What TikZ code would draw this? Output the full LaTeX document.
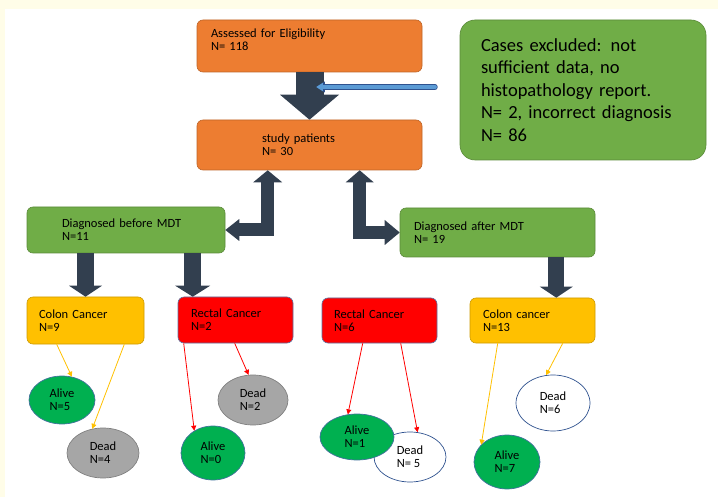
\documentclass[tikz,border=0pt]{standalone}
\usepackage{fontspec}
\setmainfont{Carlito}
\usetikzlibrary{arrows.meta,shapes.geometric}
\definecolor{orangebox}{HTML}{ED7D31}
\definecolor{greenbox}{HTML}{70AD47}
\definecolor{yellowbox}{HTML}{FFC000}
\definecolor{redbox}{HTML}{FF0000}
\definecolor{alivegreen}{HTML}{00B050}
\definecolor{deadgray}{HTML}{A6A6A6}
\definecolor{slate}{HTML}{323F4F}
\definecolor{outline}{HTML}{41719C}
\definecolor{midblue}{HTML}{5B9BD5}
\definecolor{darkblue}{HTML}{2F528F}
\definecolor{cream}{HTML}{FFFDE8}
\newcommand{\boxfont}{\fontsize{12.5}{13}\selectfont}
\newcommand{\notefont}{\fontsize{18.5}{22.5}\selectfont}
\tikzset{
  flowbox/.style={rectangle,rounded corners=6pt,fill=#1,draw=#1!80!black,line width=0.6pt,
    align=left,inner ysep=1pt,font=\boxfont},
  state/.style={ellipse,draw=outline,line width=0.7pt,align=left,inner sep=0pt,font=\boxfont},
  alive/.style={state,fill=alivegreen},
  dead/.style={state,fill=deadgray,draw=gray},
  openstate/.style={state,fill=white,draw=darkblue},
  yline/.style={draw=yellowbox,line width=0.8pt,-{Triangle[width=5pt,length=5pt]}},
  rline/.style={draw=redbox,line width=0.8pt,-{Triangle[width=5pt,length=5pt]}},
}
\begin{document}
\begin{tikzpicture}[x=1pt,y=-1pt]
\useasboundingbox (0,0) rectangle (718,497);
\fill[cream] (0,0) rectangle (718,9);
\fill[cream] (0,0) rectangle (5,497);
% top boxes
\node[flowbox=orangebox,minimum width=225pt,minimum height=52pt,text width=197pt,inner xsep=14pt] (assess) at (309.5,46) {Assessed for Eligibility\\N= 118\rule[-12pt]{0pt}{12pt}};
\node[flowbox=orangebox,minimum width=225pt,minimum height=50pt,text width=95pt,inner xsep=65pt] (study) at (309.5,145) {study patients\\N= 30};
\node[flowbox=greenbox,rounded corners=15pt,minimum width=246pt,minimum height=140pt,text width=204pt,inner xsep=21pt,font=\notefont] (excl) at (583,90)
  {Cases excluded: not\\sufficient data, no\\histopathology report.\\N= 2, incorrect diagnosis\\N= 86};
% groups
\node[flowbox=greenbox,minimum width=198pt,minimum height=46pt,text width=128pt,inner xsep=35pt] (before) at (126,230) {Diagnosed before MDT\\N=11};
\node[flowbox=greenbox,minimum width=195pt,minimum height=49pt,text width=167pt,inner xsep=14pt] (after) at (497.5,232.5) {Diagnosed after MDT\\N= 19};
% cancer types
\node[flowbox=yellowbox,minimum width=117pt,minimum height=47pt,text width=93pt,inner xsep=12pt] (c9) at (85.5,320.5) {Colon Cancer\\N=9};
\node[flowbox=redbox,draw=darkblue!80,minimum width=115pt,minimum height=46pt,text width=89pt,inner xsep=13pt] (r2) at (235.5,320) {Rectal Cancer\\N=2};
\node[flowbox=redbox,draw=darkblue!80,minimum width=115pt,minimum height=45pt,text width=91pt,inner xsep=12pt] (r6) at (379.5,320.5) {Rectal Cancer\\N=6};
\node[flowbox=yellowbox,minimum width=125pt,minimum height=45pt,text width=99pt,inner xsep=13pt] (c13) at (532.5,320.5) {Colon cancer\\N=13};
% outcomes
\node[alive,minimum width=66pt,minimum height=48pt] (a5) at (62,400) {Alive\\N=5};
\node[dead,minimum width=72pt,minimum height=50pt] (d4) at (103,453) {Dead\\N=4};
\node[dead,minimum width=70pt,minimum height=50pt] (d2) at (253,400) {Dead\\N=2};
\node[alive,minimum width=64pt,minimum height=54pt] (a0) at (213,453) {Alive\\N=0};
\node[openstate,minimum width=72pt,minimum height=50pt] (d5) at (410,457) {Dead\\N= 5};
\node[alive,minimum width=74pt,minimum height=46pt] (a1) at (357,437) {Alive\\N=1};
\node[openstate,minimum width=74pt,minimum height=56pt] (d6) at (553,403) {Dead\\N=6};
\node[alive,minimum width=66pt,minimum height=54pt] (a7) at (507,462) {Alive\\N=7};
% block arrows
\coordinate (lbend) at ([xshift=71pt]study.south west);
\coordinate (rbend) at ([xshift=163pt]study.south west);
\coordinate (r2in) at ([xshift=15pt]r2.north west);
\coordinate (c13in) at ([xshift=-39pt]c13.north east);
\draw[slate,line width=28pt,-{Triangle[width=59pt,length=25pt,line width=0pt]}] (assess.south) -- (study.north);
\draw[slate,line width=13pt,{Triangle[width=29pt,length=12pt,line width=0pt]}-{Triangle[width=22pt,length=14pt,line width=0pt]}] (lbend) |- (before.east);
\draw[slate,line width=13pt,{Triangle[width=28pt,length=12pt,line width=0pt]}-{Triangle[width=25pt,length=15pt,line width=0pt]}] (rbend) |- (after.west);
\draw[slate,line width=17pt,-{Triangle[width=33pt,length=11pt,line width=0pt]}] (c9.north |- before.south) -- (c9.north);
\draw[slate,line width=17pt,-{Triangle[width=35pt,length=11pt,line width=0pt]}] (r2in |- before.south) -- (r2in);
\draw[slate,line width=16pt,-{Triangle[width=33pt,length=11pt,line width=0pt]}] (c13in |- after.south) -- (c13in);
% excluded cases
\coordinate (bluetail) at (435,87);
\coordinate (bluetip) at (315,87);
\draw[midblue,line width=3.8pt,line cap=round,shorten >=1.3pt,-{Triangle[width=8.5pt,length=6.5pt,line width=0pt]},
  preaction={draw=darkblue,line width=5.4pt,line cap=round,-{Triangle[width=11pt,length=8.5pt,line width=0pt]}}] (bluetail) -- (bluetip);
% outcome links
\draw[yline] ([xshift=30pt]c9.south west) -- (a5.67);
\draw[yline] ([xshift=-20pt]c9.south east) -- (d4.114);
\draw[rline] ([xshift=6pt]r2.south west) -- (a0.130);
\draw[rline] ([xshift=57pt]r2.south west) -- (d2.100);
\draw[rline] ([xshift=41pt]r6.south west) -- (a1.112);
\draw[rline] ([xshift=79pt]r6.south west) -- (d5.73);
\draw[yline] ([xshift=28pt]c13.south west) -- (a7.146);
\draw[yline] ([xshift=93pt]c13.south west) -- (d6.104);
\end{tikzpicture}
\end{document}
